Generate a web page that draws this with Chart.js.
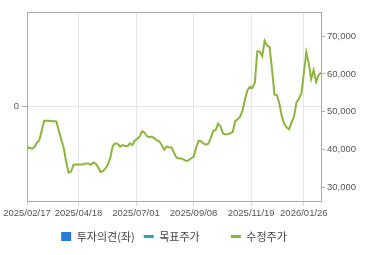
<!DOCTYPE html>
<html>
<head>
<meta charset="utf-8">
<script src="https://cdn.jsdelivr.net/npm/chart.js@4"></script>
<style>
  html, body { margin: 0; padding: 0; background: #fff; }
  #wrap { width: 370px; height: 255px; }
</style>
</head>
<body>
<div id="wrap"><canvas id="c" width="370" height="255"></canvas></div>
<script>
// ---- data ----
const seriesNames = ['투자의견(좌)', '목표주가', '수정주가'];
// trading-day position of the x-axis tick labels
const tickDays   = [0, 42, 89, 136, 183, 226];
const tickLabels = ['2025/02/17', '2025/04/18', '2025/07/01', '2025/09/08', '2025/11/19', '2026/01/26'];
const lastDay = 240;       // trading days covered by the chart
const sampleStep = 2;      // prices below are one value every 2 trading days
const opinion = [];        // 투자의견 (no values shown)
const targetPrice = [];    // 목표주가 (no values shown)
const prices = [
  40240, 40530, 40270, 40640, 41780, 42490, 45010, 47610, 47610, 47610,
  47480, 47530, 47400, 45010, 42630, 40400, 36710, 33930, 34190, 36020,
  36050, 36050, 36050, 36050, 36340, 36310, 36000, 36580, 36310, 35360,
  34090, 34300, 35040, 35970, 37800, 40960, 41670, 41510, 40770, 41170,
  40930, 40880, 41670, 41220, 42390, 42810, 43500, 44880, 44460, 43530,
  43290, 43450, 42970, 42490, 42150, 41220, 39970, 40850, 40610, 40580,
  39180, 37910, 37640, 37640, 37370, 36980, 37190, 37720, 38090, 40430,
  42310, 42230, 41620, 41330, 41540, 43050, 45010, 45150, 46840, 46130,
  44270, 44010, 44090, 44320, 44700, 47590, 48010, 48730, 50350, 53370,
  55730, 56610, 56370, 57670, 66000, 65940, 64700, 68750, 67560, 67190,
  61330, 54540, 54430, 52200, 48830, 46840, 45810, 45410, 47190, 48780,
  52490, 53450, 54850, 60270, 65700, 62870, 58670, 61060, 57880, 59740,
  60350
];
const leftTicks  = [0];
const rightTicks = [30000, 40000, 50000, 60000, 70000];

// ---- styling ----
const GREEN = '#8db440';
const BLUE  = '#2b7bdc';
const TEAL  = '#27a5b5';
const AXIS  = '#aaaaaa';
const GRID  = '#e6e6e6';
const TEXT  = '#555555';
const tickFont = { family: "'Liberation Sans', Arial, sans-serif", size: 9.5 };

const ctx = document.getElementById('c').getContext('2d');
new Chart(ctx, {
  data: {
    datasets: [
      { type: 'bar',  label: seriesNames[0], data: opinion, yAxisID: 'yL', backgroundColor: BLUE },
      { type: 'line', label: seriesNames[1], data: targetPrice, yAxisID: 'yR', borderColor: TEAL, backgroundColor: TEAL, borderWidth: 2, pointRadius: 0 },
      { type: 'line', label: seriesNames[2], yAxisID: 'yR', borderColor: GREEN, backgroundColor: GREEN,
        borderWidth: 2, pointRadius: 0, tension: 0,
        data: prices.map((v, i) => ({ x: i * sampleStep, y: v })) }
    ]
  },
  options: {
    responsive: false,
    animation: false,
    devicePixelRatio: 1,
    layout: { padding: { top: 12, right: 10, bottom: 3, left: 0 } },
    plugins: {
      tooltip: { enabled: false },
      legend: {
        position: 'bottom',
        fullSize: false,
        labels: {
          usePointStyle: true,
          pointStyleWidth: 10,
          boxHeight: 9,
          padding: 9,
          color: '#444',
          font: { family: "'Noto Sans CJK KR', sans-serif", size: 11 },
          generateLabels: () => [
            { text: seriesNames[0], fillStyle: BLUE, strokeStyle: BLUE, lineWidth: 0, pointStyle: 'rect', datasetIndex: 0, fontColor: '#444' },
            { text: seriesNames[1] + '         ', fillStyle: TEAL, strokeStyle: TEAL, lineWidth: 3, pointStyle: 'line', datasetIndex: 1, fontColor: '#444' },
            { text: seriesNames[2], fillStyle: GREEN, strokeStyle: GREEN, lineWidth: 3, pointStyle: 'line', datasetIndex: 2, fontColor: '#444' }
          ]
        }
      }
    },
    scales: {
      x: {
        type: 'linear',
        position: 'bottom',
        offset: false,
        min: 0,
        max: lastDay,
        afterBuildTicks: s => { s.ticks = tickDays.map(v => ({ value: v })); },
        afterFit: s => { s.height = 21; },
        ticks: {
          autoSkip: false,
          maxRotation: 0,
          padding: 2,
          color: TEXT,
          font: tickFont,
          callback: v => tickLabels[tickDays.indexOf(v)]
        },
        grid: { offset: false, color: GRID, tickColor: '#d8d8d8', tickLength: 5 },
        border: { color: AXIS }
      },
      xTop: {
        type: 'linear',
        position: 'top',
        offset: false,
        min: 0,
        max: lastDay,
        afterFit: s => { s.height = 0; },
        ticks: { display: false },
        grid: { offset: false, drawOnChartArea: false, drawTicks: false },
        border: { color: AXIS }
      },
      yL: {
        type: 'linear',
        position: 'left',
        min: -1,
        max: 1,
        afterBuildTicks: s => { s.ticks = leftTicks.map(v => ({ value: v })); },
        afterFit: s => { s.width = 27; },
        ticks: { color: TEXT, font: tickFont, padding: 3 },
        grid: { color: GRID, tickColor: AXIS, tickLength: 5 },
        border: { color: AXIS }
      },
      yR: {
        type: 'linear',
        position: 'right',
        min: 26400,
        max: 76400,
        afterBuildTicks: s => { s.ticks = rightTicks.map(v => ({ value: v })); },
        afterFit: s => { s.width = 39; },
        ticks: {
          color: TEXT, font: tickFont, padding: 2,
          callback: v => v.toLocaleString('en-US')
        },
        grid: { drawOnChartArea: false, tickColor: AXIS, tickLength: 4 },
        border: { color: AXIS }
      }
    }
  }
});
</script>
</body>
</html>
